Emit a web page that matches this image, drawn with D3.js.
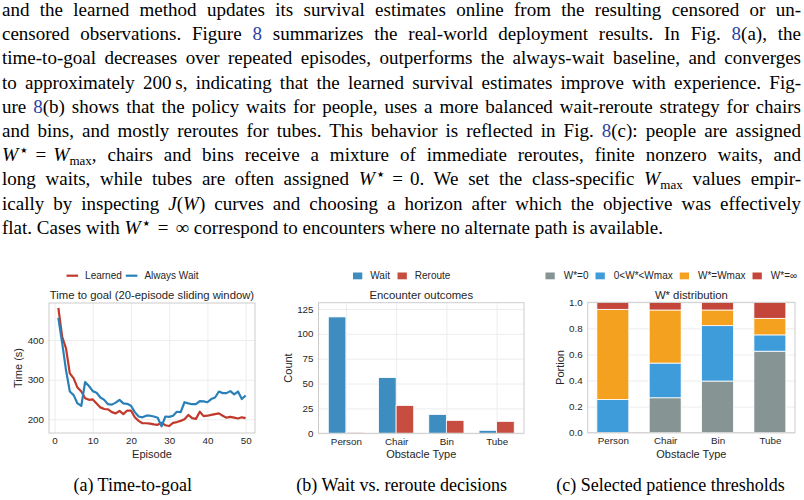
<!DOCTYPE html>
<html>
<head>
<meta charset="utf-8">
<script src="https://cdn.jsdelivr.net/npm/d3@7"></script>
<style>
body { margin: 0; background: #fff; width: 804px; height: 500px; overflow: hidden; position: relative; }
#para { position: absolute; left: 2px; top: 0; width: 799px; font-family: "Liberation Serif", "Times New Roman", serif; font-size: 19px; color: #000; }
.ln { white-space: nowrap; height: 24.2px; line-height: 19px; }
.ln .in { display: inline-block; }
.ref { color: #2a3ea0; }
.mw { font-style: italic; font-size: 19.5px; margin-right: 2px; }
.eq { margin: 0 7px; }
.st { font-family: "DejaVu Sans", sans-serif; font-size: 8px; position: relative; top: -8px; margin-right: 1px; }
.sb { font-size: 13px; position: relative; top: 4px; }
svg { position: absolute; left: 0; top: 0; }
</style>
</head>
<body>
<div id="para"></div>
<svg id="fig" width="804" height="500"></svg>
<script>
// ---- data ----
var learned = [481, 408, 379, 316, 303, 280, 270, 253, 249, 250,
               240, 230, 226, 225, 218, 215, 221, 213, 222, 222,
               205, 196, 190, 190, 189, 187, 186, 191, 185, 183,
               191, 193, 196, 200, 211, 203, 201, 219, 208, 209,
               211, 213, 215, 209, 204, 206, 204, 202, 205, 203];
var alwaysWait = [456, 392, 324, 270, 261, 240, 234, 294, 284, 271,
                  267, 255, 249, 238, 237, 242, 249, 240, 239, 234,
                  218, 207, 205, 209, 209, 207, 204, 182, 207, 206,
                  209, 219, 218, 243, 240, 238, 238, 246, 245, 243,
                  251, 255, 270, 266, 266, 271, 263, 270, 251, 260];
var lineSeries = ["Learned", "Always Wait"];
var episodeTicks = [0, 10, 20, 30, 40, 50];
var timeTicks = [200, 300, 400];

var obstacles = ["Person", "Chair", "Bin", "Tube"];
var outcomeSeries = ["Wait", "Reroute"];
var waitCounts = [117, 56, 19, 3];
var rerouteCounts = [1, 28, 13, 12];
var countTicks = [0, 25, 50, 75, 100, 125];

var wLabels = ["W*=0", "0<W*<Wmax", "W*=Wmax", "W*=\u221e"];
var wZero   = [0,     0.268, 0.396, 0.625];
var wFinite = [0.254, 0.266, 0.425, 0.125];
var wMax    = [0.692, 0.407, 0.120, 0.127];
var wInf    = [0.054, 0.059, 0.059, 0.123];
var portionTicks = [0, 0.2, 0.4, 0.6, 0.8, 1.0];

var WSTAR = '<span class="mw">W</span><span class="st">\u2605</span>';
var WMAX = '<span class="mw" style="margin-right:0">W</span><span class="sb">max</span>';
var EQ = '<span class="eq">=</span>';
var paraLines = [
  'and the learned method updates its survival estimates online from the resulting censored or un-',
  'censored observations. Figure <span class="ref">8</span> summarizes the real-world deployment results. In Fig. <span class="ref">8</span>(a), the',
  'time-to-goal decreases over repeated episodes, outperforms the always-wait baseline, and converges',
  'to approximately 200\u2009s, indicating that the learned survival estimates improve with experience. Fig-',
  'ure <span class="ref">8</span>(b) shows that the policy waits for people, uses a more balanced wait-reroute strategy for chairs',
  'and bins, and mostly reroutes for tubes. This behavior is reflected in Fig. <span class="ref">8</span>(c): people are assigned',
  WSTAR + EQ + WMAX + ', chairs and bins receive a mixture of immediate reroutes, finite nonzero waits, and',
  'long waits, while tubes are often assigned ' + WSTAR + EQ + '0. We set the class-specific ' + WMAX + ' values empir-',
  'ically by inspecting <i>J</i>(<i>W</i>) curves and choosing a horizon after which the objective was effectively',
  'flat. Cases with ' + WSTAR + EQ + '\u221e correspond to encounters where no alternate path is available.'
];
var captions = ["(a) Time-to-goal", "(b) Wait vs. reroute decisions", "(c) Selected patience thresholds"];

// ---- paragraph (justified line by line) ----
var paraWidth = 799;
var para = d3.select("#para");
paraLines.forEach(function(html, i) {
  var inner = para.append("div").attr("class", "ln")
    .append("span").attr("class", "in").html(html);
  if (i < paraLines.length - 1) {
    var spaces = (inner.text().match(/ /g) || []).length;
    var w = inner.node().getBoundingClientRect().width;
    inner.style("word-spacing", ((paraWidth - w) / spaces) + "px");
  }
});

// ---- figure ----
var svg = d3.select("#fig");
var sans = "'Liberation Sans', Arial, sans-serif";
var ink = "#262626";
var gridColor = "#ebebeb";
var frameColor = "#cccccc";

function drawGrid(g, x, y, xt, yt, box) {
  g.append("g")
    .attr("transform", "translate(0," + box.bottom + ")")
    .call(d3.axisBottom(x).tickValues(xt).tickSize(-(box.bottom - box.top)).tickFormat(""))
    .call(function(s) { s.select(".domain").remove(); s.selectAll("line").attr("stroke", gridColor).attr("stroke-width", 0.9); });
  g.append("g")
    .attr("transform", "translate(" + box.left + ",0)")
    .call(d3.axisLeft(y).tickValues(yt).tickSize(-(box.right - box.left)).tickFormat(""))
    .call(function(s) { s.select(".domain").remove(); s.selectAll("line").attr("stroke", gridColor).attr("stroke-width", 0.9); });
}

function drawFrame(g, x, y, xt, yt, yfmt, box, title, xlabel, ylabel) {
  g.append("rect")
    .attr("x", box.left).attr("y", box.top)
    .attr("width", box.right - box.left).attr("height", box.bottom - box.top)
    .attr("fill", "none").attr("stroke", frameColor).attr("stroke-width", 1);

  var ax = g.append("g")
    .attr("transform", "translate(0," + box.bottom + ")")
    .call(d3.axisBottom(x).tickValues(xt).tickSize(0).tickPadding(4.5));
  var ay = g.append("g")
    .attr("transform", "translate(" + box.left + ",0)")
    .call(d3.axisLeft(y).tickValues(yt).tickSize(0).tickPadding(5).tickFormat(yfmt));
  [ax, ay].forEach(function(a) {
    a.select(".domain").remove();
    a.attr("font-family", sans).attr("font-size", 9.8);
    a.selectAll("text").attr("fill", ink);
  });

  var cx = (box.left + box.right) / 2;
  g.append("text").attr("x", cx).attr("y", 299)
    .attr("text-anchor", "middle").attr("font-family", sans).attr("font-size", 11.3).attr("fill", ink)
    .text(title);
  g.append("text").attr("x", cx).attr("y", 457.5)
    .attr("text-anchor", "middle").attr("font-family", sans).attr("font-size", 11).attr("fill", ink)
    .text(xlabel);
  g.append("text")
    .attr("transform", "translate(" + box.ylab + "," + ((box.top + box.bottom) / 2) + ") rotate(-90)")
    .attr("text-anchor", "middle").attr("font-family", sans).attr("font-size", 11).attr("fill", ink)
    .text(ylabel);
}

function drawLegend(items, colors, centerX, kind, handleW, gapHandle, gapText) {
  var g = svg.append("g");
  var x = 0;
  items.forEach(function(label, i) {
    if (kind == "line") {
      g.append("line").attr("x1", x).attr("x2", x + handleW).attr("y1", 275.7).attr("y2", 275.7)
        .attr("stroke", colors[i]).attr("stroke-width", 2.2);
    } else {
      g.append("rect").attr("x", x).attr("y", 272.5).attr("width", handleW).attr("height", 6.8)
        .attr("fill", colors[i]);
    }
    var t = g.append("text").attr("x", x + handleW + gapHandle).attr("y", 279.3)
      .attr("font-family", sans).attr("font-size", 10).attr("fill", ink)
      .text(label);
    x = x + handleW + gapHandle + t.node().getComputedTextLength();
    if (i < items.length - 1) x += gapText;
  });
  g.attr("transform", "translate(" + (centerX - x / 2) + ",0)");
}

// (a) time to goal
var boxA = { left: 49, right: 255, top: 303, bottom: 433, ylab: 22 };
var xA = d3.scaleLinear().domain([-1.45, 52.45]).range([boxA.left, boxA.right]);
var yA = d3.scaleLinear().domain([165.4, 493.3]).range([boxA.bottom, boxA.top]);
var lineColors = ["#c0392b", "#2980b9"];
var gA = svg.append("g");
drawGrid(gA, xA, yA, episodeTicks, timeTicks, boxA);

var line = d3.line()
  .x(function(d, i) { return xA(i + 1); })
  .y(function(d) { return yA(d); });

gA.selectAll(".series")
  .data([learned, alwaysWait])
  .enter()
  .append("path")
  .attr("d", line)
  .attr("fill", "none")
  .attr("stroke", function(d, i) { return lineColors[i]; })
  .attr("stroke-width", 2.2)
  .attr("stroke-linejoin", "round");

drawFrame(gA, xA, yA, episodeTicks, timeTicks, d3.format("d"), boxA,
  "Time to goal (20-episode sliding window)", "Episode", "Time (s)");
drawLegend(lineSeries, lineColors, 132.5, "line", 11.6, 7, 4);

// (b) encounter outcomes
var boxB = { left: 318.5, right: 524, top: 302.7, bottom: 433.3, ylab: 292 };
var xB = d3.scalePoint().domain(obstacles).range([boxB.left, boxB.right]).padding(0.545);
var yB = d3.scaleLinear().domain([0, 131.3]).range([boxB.bottom, boxB.top]);
var barColors = ["#3e8dc0", "#c74d40"];
var gB = svg.append("g");
drawGrid(gB, xB, yB, obstacles, countTicks, boxB);

var bw = xB.step() * 0.35;
var outcomeData = [waitCounts, rerouteCounts];
outcomeData.forEach(function(vals, s) {
  gB.selectAll(".bar" + s)
    .data(vals)
    .enter()
    .append("rect")
    .attr("x", function(d, i) { return xB(obstacles[i]) + (s == 0 ? -bw : 0); })
    .attr("y", function(d) { return yB(d); })
    .attr("width", bw)
    .attr("height", function(d) { return yB(0) - yB(d); })
    .attr("fill", barColors[s])
    .attr("stroke", "#fff")
    .attr("stroke-width", 0.8);
});

drawFrame(gB, xB, yB, obstacles, countTicks, d3.format("d"), boxB,
  "Encounter outcomes", "Obstacle Type", "Count");
drawLegend(outcomeSeries, barColors, 401.7, "rect", 9.3, 8, 7.6);

// (c) W* distribution
var boxC = { left: 587.7, right: 795, top: 302.3, bottom: 432.7, ylab: 564 };
var xC = d3.scalePoint().domain(obstacles).range([boxC.left, boxC.right]).padding(0.48);
var yC = d3.scaleLinear().domain([0, 1]).range([boxC.bottom, boxC.top]);
var stackColors = ["#869494", "#3e9cdb", "#f3a11e", "#c4463a"];
var gC = svg.append("g");
drawGrid(gC, xC, yC, obstacles, portionTicks, boxC);

var rows = obstacles.map(function(o, i) {
  return { name: o, a: wZero[i], b: wFinite[i], c: wMax[i], d: wInf[i] };
});
var stacked = d3.stack().keys(["a", "b", "c", "d"])(rows);
var cw = xC.step() * 0.61;

gC.selectAll(".layer")
  .data(stacked)
  .enter()
  .append("g")
  .attr("fill", function(d, i) { return stackColors[i]; })
  .selectAll("rect")
  .data(function(d) { return d; })
  .enter()
  .append("rect")
  .attr("x", function(d) { return xC(d.data.name) - cw / 2; })
  .attr("y", function(d) { return yC(d[1]); })
  .attr("width", cw)
  .attr("height", function(d) { return yC(d[0]) - yC(d[1]); })
  .attr("stroke", "#fff")
  .attr("stroke-width", function(d) { return d[1] - d[0] > 0 ? 0.8 : 0; });

drawFrame(gC, xC, yC, obstacles, portionTicks, d3.format(".1f"), boxC,
  "W* distribution", "Obstacle Type", "Portion");
drawLegend(wLabels, stackColors, 671.3, "rect", 9.3, 9, 7);

// captions
var capX = [132.7, 401.7, 670.5];
svg.selectAll(".cap")
  .data(captions)
  .enter()
  .append("text")
  .attr("x", function(d, i) { return capX[i]; })
  .attr("y", 491)
  .attr("text-anchor", "middle")
  .attr("font-family", "'Liberation Serif', 'Times New Roman', serif")
  .attr("font-size", 18)
  .attr("fill", "#000")
  .text(function(d) { return d; });
</script>
</body>
</html>
